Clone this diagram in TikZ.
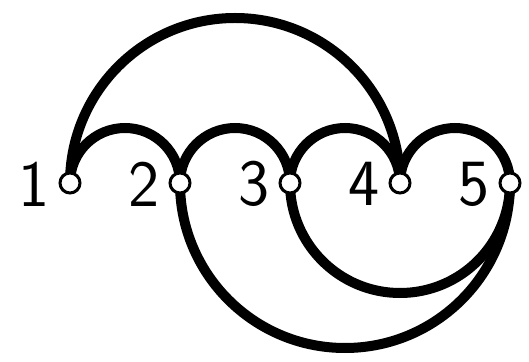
\documentclass[tikz,border=0pt]{standalone}
\begin{document}
\begin{tikzpicture}[x=1pt,y=1pt,
  vtx/.style={circle,draw=black,fill=white,line width=3pt,minimum size=20pt,inner sep=0pt},
  lbl/.style={anchor=east,inner sep=0pt,font=\sffamily\fontsize{66}{70}\selectfont},
  edge/.style={line width=10pt,black}]
\useasboundingbox (0,0) rectangle (529,361);
\foreach \i/\x in {1/70,2/180,3/290,4/400,5/510}{
  \coordinate (c\i) at (\x,178);
}
% upper arcs
\draw[edge] (c1) arc[start angle=180,end angle=0,radius=165];
\draw[edge] (c1) arc[start angle=180,end angle=0,radius=55];
\draw[edge] (c2) arc[start angle=180,end angle=0,radius=55];
\draw[edge] (c3) arc[start angle=180,end angle=0,radius=55];
\draw[edge] (c4) arc[start angle=180,end angle=0,radius=55];
% lower arcs
\draw[edge] (c2) arc[start angle=180,end angle=360,radius=165];
\draw[edge] (c3) arc[start angle=180,end angle=360,radius=110];
\foreach \i in {1,...,5}{
  \node[vtx] (n\i) at (c\i) {};
  \node[lbl] (l\i) at ([xshift=-20pt,yshift=-1pt]c\i) {\i};
}
\end{tikzpicture}
\end{document}
